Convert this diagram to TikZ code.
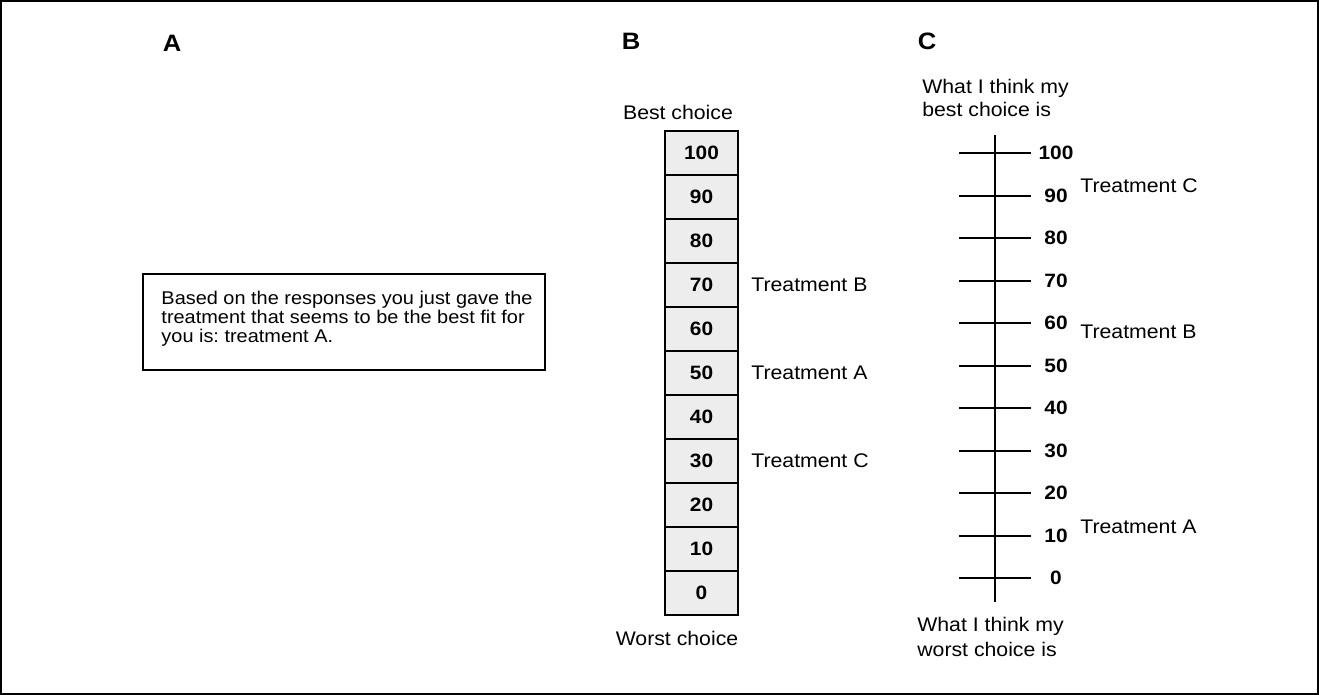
\documentclass[tikz,border=0pt]{standalone}
\usepackage{fontspec}
\setmainfont{Liberation Sans}[FakeStretch=1.08]
\usetikzlibrary{positioning}
\frenchspacing
\begin{document}
\begin{tikzpicture}[x=0.02cm, y=-0.02cm,
  panel/.style={inner sep=0pt, font=\fontsize{13.5}{16}\selectfont\bfseries},
  txt/.style={inner sep=0pt, font=\fontsize{11.2}{13}\selectfont},
  num/.style={inner sep=0pt, font=\fontsize{11}{13}\selectfont\bfseries},
  cell/.style={draw, line width=1pt, fill=black!7, minimum width=1.46cm, minimum height=0.88cm,
    inner sep=0pt, outer sep=0pt, font=\fontsize{11}{13}\selectfont\bfseries},
  tick/.style={line width=1pt}]
\useasboundingbox (0,0) rectangle (1319,695);
\draw[line width=0.8pt] (1,1) rectangle (1318,694);

% panel letters
\node[panel] (pa) at (172,43) {A};
\node[panel] (pb) at (631,41) {B};
\node[panel] (pc) at (927,41) {C};

% A: feedback box
\node[draw, line width=1pt, minimum width=8.04cm, minimum height=1.92cm] (msg) at (344,322) {};
\node[align=left, inner sep=0pt, font=\fontsize{10.5}{10.9}\selectfont] (msgtxt) at (347,319)
  {Based on the responses you just gave the\\treatment that seems to be the best fit for\\you is: treatment A.};

% B: column of cells
\foreach \v [count=\i from 0] in {100,90,...,0}
  \node[cell] (b\v) at (701.5,{153+44*\i}) {\v};
\node[txt] (best) at (678,112) {Best choice};
\node[txt] (worst) at (677,638) {Worst choice};
\node[txt, right=0.26cm of b70] (bB) {Treatment B};
\node[txt, right=0.26cm of b50] (bA) {Treatment A};
\node[txt, right=0.26cm of b30] (bC) {Treatment C};

% C: scale
\coordinate (top) at (995,135);
\coordinate (bot) at (995,602);
\draw[tick] (top) -- (bot);
\foreach \v [count=\i from 0] in {100,90,...,0} {
  \pgfmathsetmacro\ty{round(153+42.5*\i)}
  \draw[tick] (959,\ty) -- (1031,\ty);
  \node[num] (c\v) at (1056,\ty) {\v};
}
\node[txt, anchor=west] (cC) at (1080,186) {Treatment C};
\node[txt, anchor=west] (cB) at (1080,332) {Treatment B};
\node[txt, anchor=west] (cA) at (1080,527) {Treatment A};
\node[txt, anchor=west, align=left, font=\fontsize{11.2}{13.6}\selectfont] (hi) at (922,98)
  {What I think my\\best choice is};
\node[txt, anchor=west, align=left, font=\fontsize{11.2}{14}\selectfont] (lo) at (917,637)
  {What I think my\\worst choice is};
\end{tikzpicture}
\end{document}
